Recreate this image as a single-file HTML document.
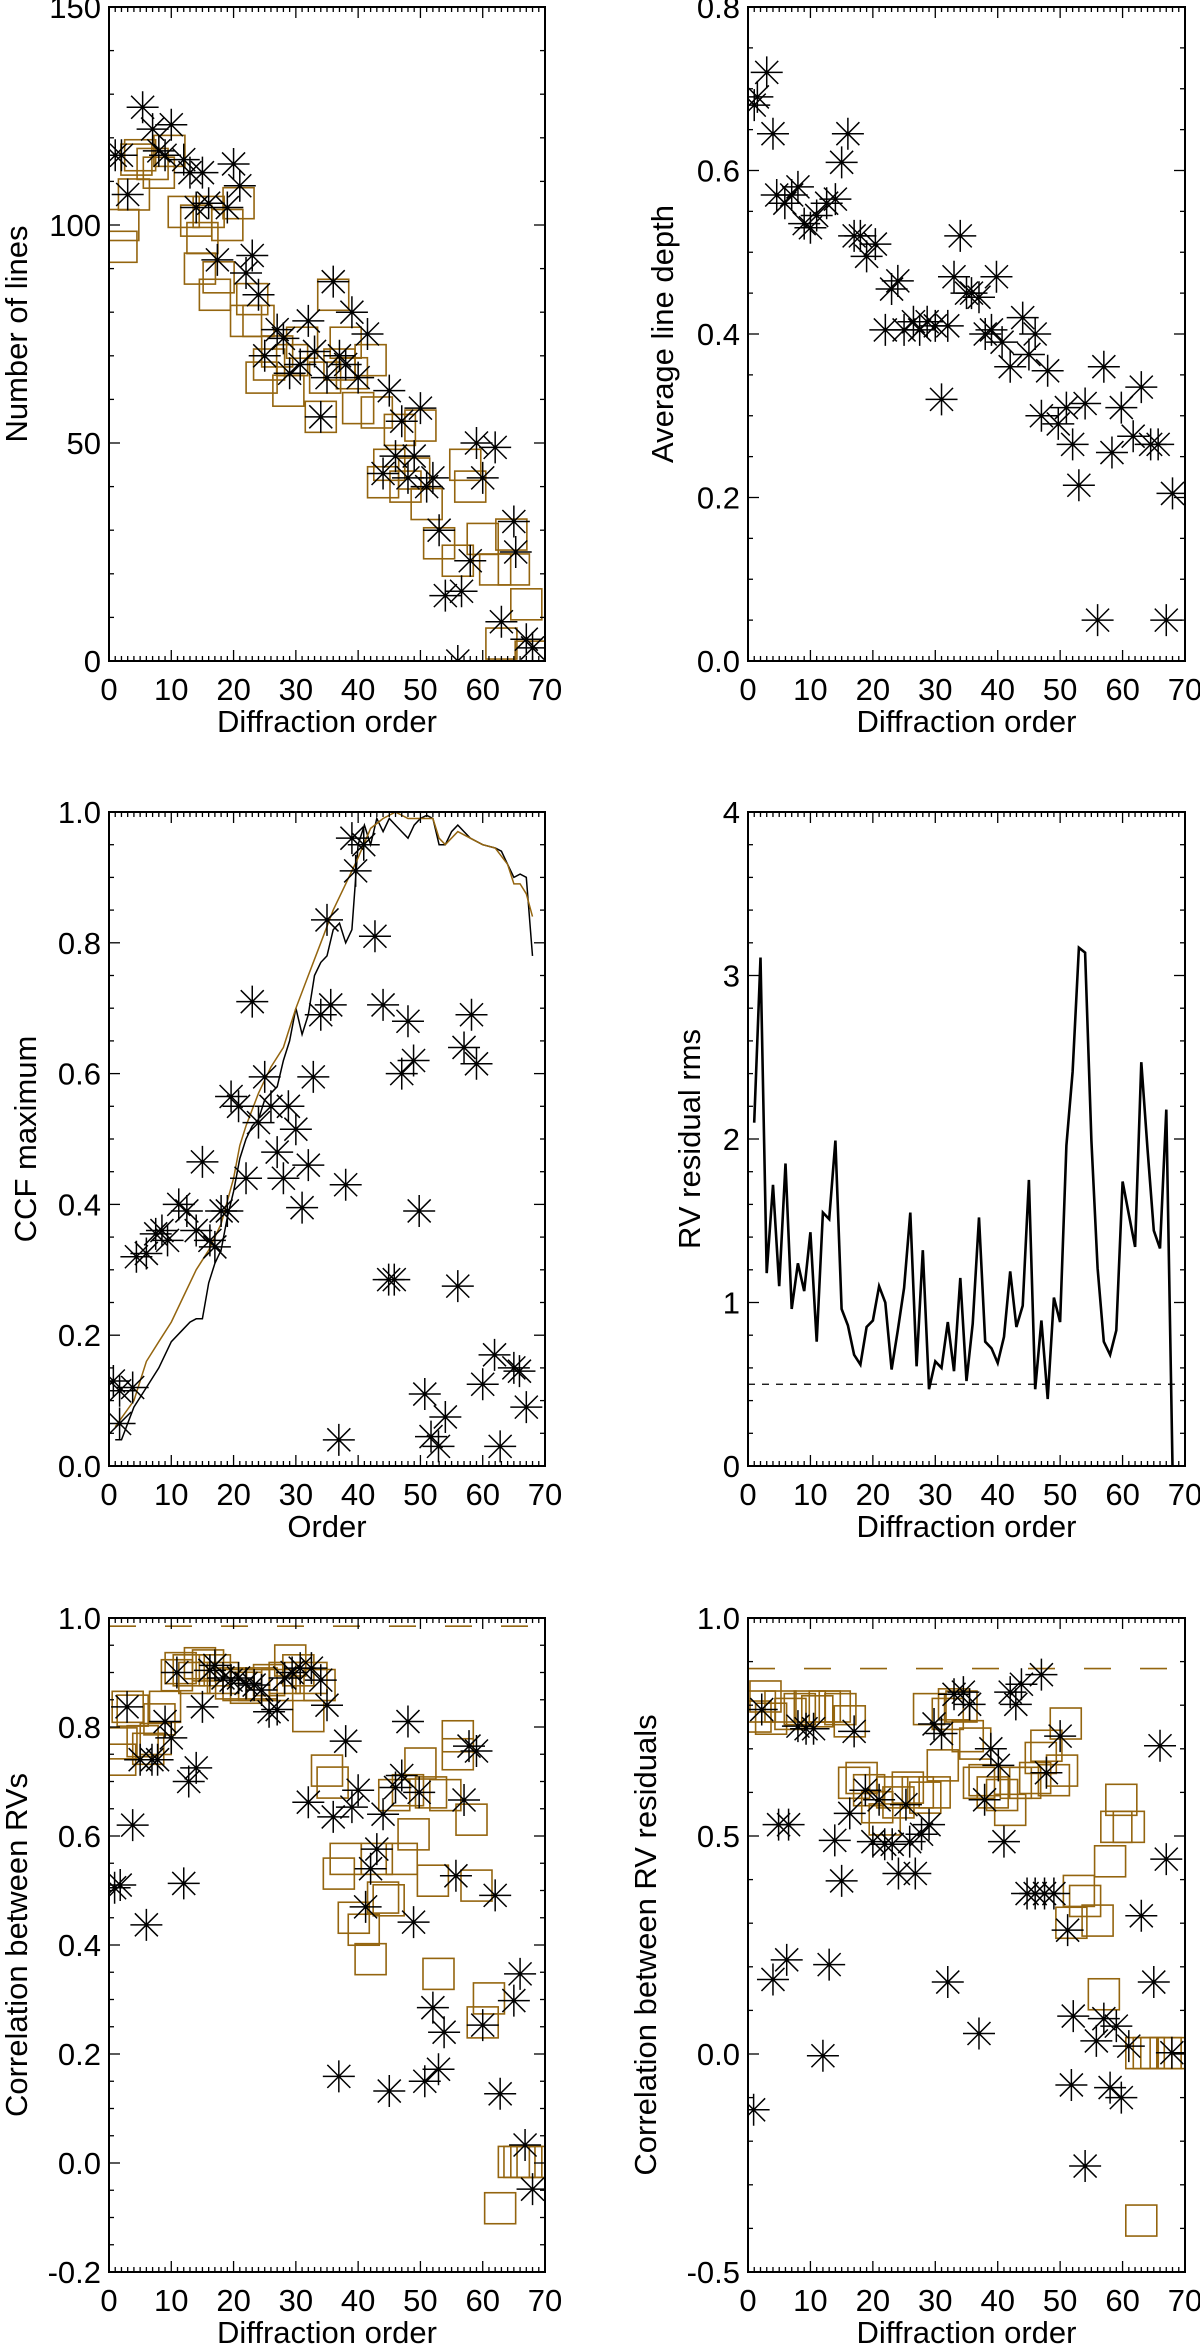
<!DOCTYPE html>
<html><head><meta charset="utf-8"><style>
html,body{margin:0;padding:0;background:#fff;}
svg{display:block;font-family:"Liberation Sans",sans-serif;}
</style></head><body>
<svg id="fig" width="1200" height="2347" viewBox="0 0 1200 2347" xmlns="http://www.w3.org/2000/svg"></svg>
<script>
// ---------- Panel 1: Number of lines ----------
const p1StarX=[1,3,2,5.4,7,8,9,10,12,13,15,14,16,17.4,19,20,21,22,23,24,25,27,28,29,30.7,32,33,35,36,37,38,39,40,41.5,34,44,45,46,47,48,49,50,51,52,53,54,56,56.6,58,59,60,62,63,65,65.3,67,68];
const p1StarY=[116,107,116,127,122,117,116,123,115,112,112,104,105,92,104,114,109,89,93,84,70,76,74,66,68,78,71,65,87,70,68,80,65,75,56,43,62,47,55,42,47,58,40,42,30,15,0,16,23,50,42,49,9,32,25,5,3];
const p1SqX=[2,2.3,4.4,5,4,7,8,9.7,12,14,15,16,14.6,17,17.6,19,20.8,22,23,24,24.5,25.7,27,28.8,29.4,31,34,34.7,36,37,38,39,40,42,43,44,45,46.7,47.6,49,50,51,53,56,57.2,58,60,62,63,64.6,65,67,67.7];
const p1SqY=[95,100,115,116,107,114,112,117,103,101,97,103,90,84,88,100,105,78,83,78,65,68,71,62,69,73,56,65,84,68,73,66,58,69,57,41,45,53,40,43,54,36,27,23,45,40,28,21,4,29,21,13,1];
// ---------- Panel 2: Average line depth ----------
const p2StarX=[1,1.5,3,4,4.6,5.9,7,8,9,10,11,12.6,14,15,16,17,18,19,20.4,22,23,24,25,26.5,27.5,28.7,30,31,32,33,34,35,35.8,37,38,39,39.8,40.7,42,44,45,46,47,48,49.7,51,52,53,54,56,57,58.3,59.8,61.7,63,64.5,65.7,67,68];
const p2StarY=[0.68,0.69,0.72,0.645,0.57,0.56,0.57,0.58,0.535,0.53,0.545,0.56,0.565,0.61,0.645,0.52,0.52,0.495,0.51,0.405,0.455,0.465,0.405,0.415,0.405,0.415,0.41,0.32,0.41,0.47,0.52,0.45,0.45,0.445,0.4,0.405,0.47,0.39,0.36,0.42,0.375,0.4,0.3,0.355,0.29,0.31,0.265,0.215,0.315,0.05,0.36,0.255,0.31,0.275,0.335,0.265,0.265,0.05,0.205];
// ---------- Panel 3: CCF maximum ----------
const p3StarX=[0.7,1.7,1.7,3.8,4.4,6,7.5,8.5,9.4,11.2,12.5,14,15,16.2,17,18,19,19.6,20.8,22,23,24,25,26,27,28,28.8,30,31,32,32.8,34,35,35.6,36.9,38,39,39.6,40.9,42.7,44,44.9,45.8,47,48,48.9,49.8,50.7,51.7,52.9,54,56,57,58.2,59,60,61.9,62.8,65,65.9,67];
const p3StarY=[0.13,0.115,0.065,0.12,0.32,0.325,0.355,0.36,0.345,0.4,0.39,0.36,0.465,0.345,0.335,0.39,0.39,0.565,0.55,0.44,0.71,0.525,0.595,0.55,0.48,0.44,0.55,0.515,0.395,0.46,0.595,0.69,0.835,0.705,0.04,0.43,0.96,0.91,0.95,0.81,0.705,0.285,0.285,0.6,0.68,0.62,0.39,0.11,0.045,0.03,0.075,0.275,0.64,0.69,0.615,0.125,0.17,0.03,0.15,0.145,0.09];
const p3BrownX=[1,4,6,8,10,12,14,16,18,20,21,22,24,26,28,30,32,34,36,38,40,42,44,46,48,50,52,53,54,56,58,60,62,64,65,66,67,68];
const p3BrownY=[0.06,0.1,0.16,0.19,0.22,0.26,0.3,0.33,0.37,0.44,0.49,0.52,0.57,0.61,0.64,0.7,0.75,0.8,0.85,0.89,0.93,0.975,0.99,1.0,0.99,0.99,0.99,0.96,0.95,0.97,0.96,0.95,0.945,0.92,0.89,0.89,0.875,0.84];
const p3BlackX=[1,2,4,6,8,10,12,13,14,15,16,17,18,19,20,21,22,23,24,25,26,27,28,29,30,31,32,33,34,35,36,37,38,39,40,41,42,43,44,45,46,47,48,49,50,51,52,53,54,55,56,57,58,60,62,63,64,65,66,67,68];
const p3BlackY=[0.04,0.04,0.09,0.12,0.15,0.19,0.21,0.22,0.225,0.225,0.28,0.31,0.33,0.38,0.42,0.47,0.5,0.52,0.53,0.56,0.57,0.58,0.62,0.65,0.7,0.66,0.69,0.75,0.77,0.78,0.82,0.83,0.8,0.82,0.95,0.98,0.95,0.99,0.97,0.99,0.98,0.97,0.96,0.98,0.99,0.995,0.99,0.95,0.95,0.97,0.98,0.97,0.96,0.95,0.945,0.94,0.92,0.9,0.905,0.9,0.78];
// ---------- Panel 4: RV residual rms ----------
const p4Orders=[1,2,3,4,5,6,7,8,9,10,11,12,13,14,15,16,17,18,19,20,21,22,23,24,25,26,27,28,29,30,31,32,33,34,35,36,37,38,39,40,41,42,43,44,45,46,47,48,49,50,51,52,53,54,55,56,57,58,59,60,61,62,63,64,65,66,67,68];
const p4Rms=[2.1,3.11,1.18,1.72,1.1,1.85,0.96,1.24,1.07,1.43,0.76,1.55,1.51,1.99,0.96,0.86,0.68,0.62,0.85,0.89,1.1,1.0,0.59,0.83,1.09,1.55,0.61,1.32,0.47,0.64,0.6,0.88,0.58,1.15,0.52,0.87,1.52,0.76,0.72,0.63,0.79,1.19,0.85,0.98,1.75,0.47,0.89,0.41,1.03,0.88,1.96,2.41,3.17,3.14,1.99,1.21,0.76,0.68,0.83,1.74,1.54,1.34,2.47,1.94,1.44,1.33,2.18,0];
const p4Ref=[0.5];
// ---------- Panel 5: Correlation between RVs ----------
const p5StarX=[0.9,1.8,2.9,3.8,5,6,6.9,7.8,9,10,10.9,12,12.8,14,15,16.2,17,18.3,19.6,20.8,22,23.3,24.5,25.7,27,28.2,29.4,30.7,32,32.5,34,35,36,36.9,38,39,40,41.2,42,43,44,45,46,47,48,48.9,49.8,50.7,52,52.9,53.8,55.7,57,57.8,59,60,62,62.8,65,66,66.8,68];
const p5StarY=[0.505,0.51,0.837,0.62,0.74,0.437,0.74,0.74,0.81,0.78,0.9,0.513,0.7,0.725,0.837,0.904,0.913,0.89,0.886,0.89,0.88,0.877,0.868,0.828,0.832,0.89,0.9,0.908,0.662,0.908,0.886,0.84,0.635,0.159,0.774,0.653,0.684,0.47,0.54,0.576,0.64,0.132,0.689,0.711,0.81,0.442,0.68,0.15,0.285,0.172,0.24,0.527,0.666,0.765,0.756,0.253,0.491,0.127,0.298,0.347,0.033,-0.048];
const p5SqX=[1.8,2,3,3.8,5.4,6.3,7.5,8.1,9,10.9,11.5,12.8,13.7,14.6,15.9,17,18.3,19.6,20.8,22,23.3,24.5,25.7,27,28.2,29.1,30.4,32,32.5,33.8,35,35.9,36.9,38,39.3,40.9,42,43,44,44.9,45.8,47,48,48.9,50,51.7,52,52.9,54,56,56,58.2,59,60,61,62.8,65,65.9,67,68];
const p5SqY=[0.74,0.77,0.837,0.83,0.774,0.76,0.778,0.814,0.837,0.895,0.908,0.904,0.89,0.917,0.913,0.904,0.89,0.88,0.877,0.872,0.877,0.88,0.886,0.877,0.89,0.922,0.904,0.82,0.89,0.877,0.72,0.698,0.531,0.558,0.45,0.428,0.374,0.558,0.487,0.482,0.675,0.558,0.684,0.603,0.733,0.68,0.518,0.347,0.675,0.783,0.75,0.63,0.509,0.258,0.302,-0.083,0.002,0.002,0.002,0.002];
const p5Ref=[0.985];
// ---------- Panel 6: Correlation between RV residuals ----------
const p6StarX=[0.9,2.2,4,4.9,6.5,6.2,8,9.3,10.5,12,13,13.9,15,17,16.3,18.8,20,21,21.9,23.1,24.1,25.3,25.9,26.8,27.8,29,29.8,31,32,33,34.5,35.5,37,37.9,38.9,40.1,41,42,42.9,43.8,44.7,46,47.5,49,47,47.8,50,51.2,52.1,51.8,54,55.8,57,58,59,59.8,61,63,65,66,67,67.9];
const p6StarY=[-0.128,0.79,0.171,0.526,0.526,0.216,0.752,0.746,0.746,-0.004,0.205,0.49,0.397,0.74,0.552,0.605,0.487,0.583,0.481,0.481,0.414,0.572,0.487,0.414,0.504,0.526,0.757,0.735,0.165,0.825,0.83,0.802,0.047,0.583,0.7,0.662,0.487,0.83,0.802,0.848,0.368,0.368,0.368,0.368,0.87,0.645,0.729,0.284,0.087,-0.071,-0.257,0.03,0.081,-0.077,0.064,-0.1,0.018,0.317,0.165,0.707,0.447,0.003];
const p6SqX=[1.2,1.9,2.8,3.7,5.2,6.8,8.3,9.9,11.1,12.3,13.9,14.8,16.3,17,18.2,19.4,20.7,21.9,23.1,24.1,25.6,27.2,28.4,29.9,29,31.2,32,33,34.2,35.2,36.4,37,37.9,39.2,40.7,42,42.9,44.4,46,46.9,47.8,49,50.9,50.3,51.8,53,54,56,58,59,59.8,61,57,63,64.2,65.4,66.9,68.2,63];
const p6SqY=[0.774,0.797,0.82,0.769,0.797,0.78,0.791,0.797,0.786,0.797,0.797,0.791,0.763,0.622,0.633,0.605,0.566,0.538,0.6,0.577,0.611,0.6,0.588,0.6,0.791,0.662,0.78,0.802,0.797,0.729,0.712,0.622,0.628,0.6,0.594,0.56,0.622,0.622,0.633,0.679,0.707,0.628,0.758,0.65,0.301,0.374,0.351,0.306,0.442,0.521,0.583,0.521,0.137,0.002,0.002,0.002,0.002,0.002,-0.382];
const p6Ref=[0.884];

const BROWN="#94650f";
const FS=31;
const NS="http://www.w3.org/2000/svg";
const svg=document.getElementById('fig');
function mk(tag,attrs,parent){const e=document.createElementNS(NS,tag);for(const k in attrs)e.setAttribute(k,attrs[k]);(parent||svg).appendChild(e);return e;}

let panelCount=0;
function panel(o){
  panelCount++;
  const g=mk('g',{});
  
  
  const sx=v=>o.x0+(v-0)/(70-0)*(o.x1-o.x0);
  const sy=v=>o.y1-(v-o.ymin)/(o.ymax-o.ymin)*(o.y1-o.y0);
  const cid='clip'+panelCount;
  const cp=mk('clipPath',{id:cid},g);
  mk('rect',{x:o.x0,y:o.y0,width:o.x1-o.x0,height:o.y1-o.y0},cp);
  const marks=mk('g',{'clip-path':'url(#'+cid+')'},g);
  const fr=mk('rect',{x:o.x0,y:o.y0,width:o.x1-o.x0,height:o.y1-o.y0,fill:'none',stroke:'#000','stroke-width':2},g);
  
  
  const tk=mk('g',{stroke:'#000','stroke-width':1.3},g);
  for(let v=0;v<=70;v+=1){
    const X=sx(v);const L=(v%10===0)?11:5;
    mk('line',{x1:X,y1:o.y1,x2:X,y2:o.y1-L},tk);
    mk('line',{x1:X,y1:o.y0,x2:X,y2:o.y0+L},tk);
  }
  for(let v=0;v<=70;v+=10){
    const t=mk('text',{x:sx(v),y:o.y1+39,'font-size':FS,'text-anchor':'middle'},g);
    t.textContent=String(v);
    
    
  }
  const nMin=Math.round((o.ymax-o.ymin)/o.minor);
  for(let i=0;i<=nMin;i++){
    const v=o.ymin+i*o.minor;const Y=sy(v);
    const q=i*o.minor/o.major;
    const isMaj=Math.abs(q-Math.round(q))<1e-6;
    const L=isMaj?11:5;
    mk('line',{x1:o.x0,y1:Y,x2:o.x0+L,y2:Y},tk);
    mk('line',{x1:o.x1,y1:Y,x2:o.x1-L,y2:Y},tk);
  }
  o.yLabels.forEach(lab=>{
    const t=mk('text',{x:o.x0-8,y:sy(parseFloat(lab))+11,'font-size':FS,'text-anchor':'end'},g);
    t.textContent=lab;
    
    
  });
  const xt=mk('text',{x:(o.x0+o.x1)/2,y:o.y1+71,'font-size':FS,'text-anchor':'middle'},g);
  xt.textContent=o.xTitle;
  
  
  const cy=(o.y0+o.y1)/2;
  const yt=mk('text',{x:o.ytx,y:cy,'font-size':FS,'text-anchor':'middle',transform:`rotate(-90 ${o.ytx} ${cy})`},g);
  yt.textContent=o.yTitle;
  
  
  return {sx,sy,marks};
}
function stars(P,xs,ys){
  const g=mk('g',{stroke:'#000','stroke-width':1.5,fill:'none'},P.marks);
  const r=16,d=11.5;
  xs.forEach((x,i)=>{
    const X=P.sx(x),Y=P.sy(ys[i]);
    const p=mk('path',{d:`M${X-r} ${Y}H${X+r}M${X} ${Y-r}V${Y+r}M${X-d} ${Y-d}L${X+d} ${Y+d}M${X-d} ${Y+d}L${X+d} ${Y-d}`},g);
    
    
  });
}
function squares(P,xs,ys){
  const g=mk('g',{stroke:BROWN,'stroke-width':1.6,fill:'none'},P.marks);
  const h=15.5;
  xs.forEach((x,i)=>{
    const X=P.sx(x),Y=P.sy(ys[i]);
    const r=mk('rect',{x:X-h,y:Y-h,width:2*h,height:2*h},g);
    
    
  });
}
function line(P,xs,ys,color,w,name){
  const pts=xs.map((x,i)=>P.sx(x).toFixed(1)+','+P.sy(ys[i]).toFixed(1)).join(' ');
  const l=mk('polyline',{points:pts,fill:'none',stroke:color,'stroke-width':w,'stroke-linejoin':'miter'},P.marks);
  
  
}
function hline(P,v,color,dash,w,name){
  const l=mk('line',{x1:P.sx(0),x2:P.sx(70),y1:P.sy(v),y2:P.sy(v),stroke:color,'stroke-dasharray':dash,'stroke-width':w},P.marks);
  
  
}
const L={x0:109,x1:545},R={x0:748,x1:1185};
const rows=[[7,661],[812,1466],[1618,2272]];

const P1=panel({name:'panel-number-of-lines',x0:L.x0,x1:L.x1,y0:rows[0][0],y1:rows[0][1],ymin:0,ymax:150,major:50,minor:10,yLabels:['0','50','100','150'],xTitle:'Diffraction order',yTitle:'Number of lines',ytx:27});
squares(P1,p1SqX,p1SqY);stars(P1,p1StarX,p1StarY);

const P2=panel({name:'panel-average-line-depth',x0:R.x0,x1:R.x1,y0:rows[0][0],y1:rows[0][1],ymin:0,ymax:0.8,major:0.2,minor:0.05,yLabels:['0.0','0.2','0.4','0.6','0.8'],xTitle:'Diffraction order',yTitle:'Average line depth',ytx:673});
stars(P2,p2StarX,p2StarY);

const P3=panel({name:'panel-ccf-maximum',x0:L.x0,x1:L.x1,y0:rows[1][0],y1:rows[1][1],ymin:0,ymax:1,major:0.2,minor:0.05,yLabels:['0.0','0.2','0.4','0.6','0.8','1.0'],xTitle:'Order',yTitle:'CCF maximum',ytx:36});
line(P3,p3BlackX,p3BlackY,'#000',1.5,'ccf-line-black');
line(P3,p3BrownX,p3BrownY,BROWN,1.5,'ccf-line-brown');
stars(P3,p3StarX,p3StarY);

const P4=panel({name:'panel-rv-residual-rms',x0:R.x0,x1:R.x1,y0:rows[1][0],y1:rows[1][1],ymin:0,ymax:4,major:1,minor:0.2,yLabels:['0','1','2','3','4'],xTitle:'Diffraction order',yTitle:'RV residual rms',ytx:700});
hline(P4,p4Ref[0],'#000','7 7',1.2,'rms-reference-line');
line(P4,p4Orders,p4Rms,'#000',2.6,'rms-line');

const P5=panel({name:'panel-correlation-rvs',x0:L.x0,x1:L.x1,y0:rows[2][0],y1:rows[2][1],ymin:-0.2,ymax:1.0,major:0.2,minor:0.05,yLabels:['-0.2','0.0','0.2','0.4','0.6','0.8','1.0'],xTitle:'Diffraction order',yTitle:'Correlation between RVs',ytx:27});
hline(P5,p5Ref[0],BROWN,'27 29',1.6,'reference-dashed-line');
squares(P5,p5SqX,p5SqY);stars(P5,p5StarX,p5StarY);

const P6=panel({name:'panel-correlation-residuals',x0:R.x0,x1:R.x1,y0:rows[2][0],y1:rows[2][1],ymin:-0.5,ymax:1.0,major:0.5,minor:0.1,yLabels:['-0.5','0.0','0.5','1.0'],xTitle:'Diffraction order',yTitle:'Correlation between RV residuals',ytx:656});
hline(P6,p6Ref[0],BROWN,'27 29',1.6,'reference-dashed-line');
squares(P6,p6SqX,p6SqY);stars(P6,p6StarX,p6StarY);
</script>
</body></html>
